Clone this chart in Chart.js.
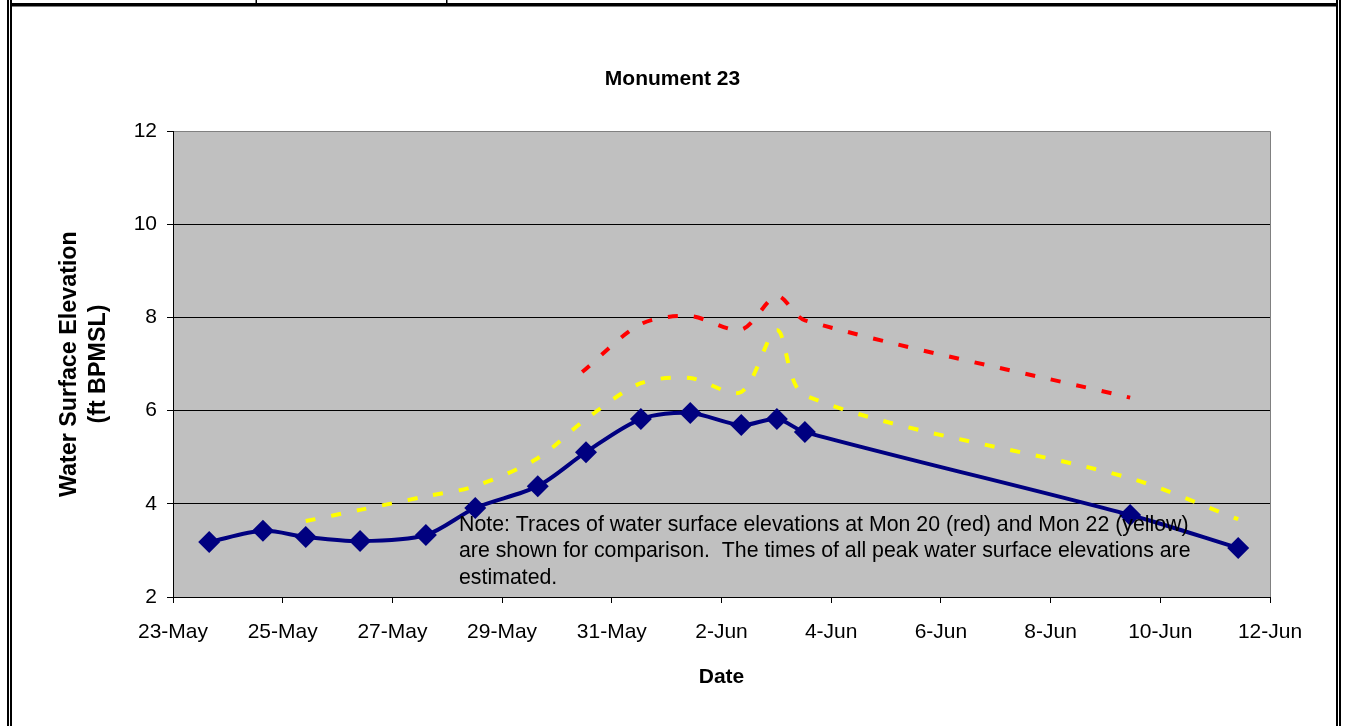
<!DOCTYPE html>
<html><head><meta charset="utf-8">
<script src="https://cdn.jsdelivr.net/npm/chart.js@4"></script>
<style>html,body{margin:0;padding:0;background:#fff}#wrap{width:1345px;height:726px}</style>
</head><body><div id="wrap"><canvas id="c" width="1345" height="726"></canvas></div>
<script>
// X values are days after 23-May
const tickLabels = ['23-May','25-May','27-May','29-May','31-May','2-Jun','4-Jun','6-Jun','8-Jun','10-Jun','12-Jun'];
const mon23Days = [0.66, 1.64, 2.42, 3.41, 4.61, 5.51, 6.65, 7.53, 8.53, 9.43, 10.36, 11.01, 11.52, 17.45, 19.42];
const mon23Elev = [3.18, 3.42, 3.29, 3.20, 3.33, 3.91, 4.38, 5.11, 5.82, 5.95, 5.69, 5.82, 5.54, 3.76, 3.05];
const mon20Days = [7.46, 8.53, 9.43, 10.36, 11.01, 11.52, 17.45];
const mon20Elev = [6.83, 7.86, 8.03, 7.74, 8.46, 7.94, 6.28];
const mon22Days = [2.42, 3.41, 4.61, 5.51, 6.65, 7.53, 8.53, 9.43, 10.36, 11.01, 11.52, 17.45, 19.42];
const mon22Elev = [3.63, 3.87, 4.16, 4.38, 4.98, 5.82, 6.59, 6.70, 6.40, 7.73, 6.33, 4.55, 3.67];
const yTicks = [2, 4, 6, 8, 10, 12];
const noteLines = [
  'Note: Traces of water surface elevations at Mon 20 (red) and Mon 22 (yellow)',
  'are shown for comparison.  The times of all peak water surface elevations are',
  'estimated.'
];

const FONT = "'Liberation Sans', Arial, sans-serif";
const pts = (xs, ys) => xs.map((x, i) => ({x: x, y: ys[i]}));

const framePlugin = {
  id: 'frame',
  beforeDraw(chart) {
    const ctx = chart.ctx, a = chart.chartArea;
    ctx.save();
    ctx.fillStyle = '#fff';
    ctx.fillRect(0, 0, chart.width, chart.height);
    ctx.fillStyle = '#C0C0C0';
    ctx.fillRect(a.left, a.top, a.right - a.left, a.bottom - a.top);
    // page frame
    ctx.fillStyle = '#000';
    ctx.fillRect(7, 0, 2, chart.height);
    ctx.fillRect(10, 0, 2, chart.height);
    ctx.fillRect(1336, 0, 2, chart.height);
    ctx.fillRect(1339, 0, 2, chart.height);
    ctx.fillRect(12, 3, 1324, 3.5);
    ctx.fillRect(255.5, 0, 1.5, 3);
    ctx.fillRect(446, 0, 1.5, 3);
    // right plot border
    ctx.strokeStyle = '#808080';
    ctx.lineWidth = 1;
    ctx.beginPath();
    ctx.moveTo(Math.round(a.right) + 0.5, a.top);
    ctx.lineTo(Math.round(a.right) + 0.5, a.bottom);
    ctx.stroke();
    ctx.restore();
  },
  afterDatasetsDraw(chart) {
    const ctx = chart.ctx;
    ctx.save();
    ctx.font = '21.3px ' + FONT;
    ctx.fillStyle = '#000';
    ctx.textAlign = 'left';
    ctx.textBaseline = 'middle';
    const ys = [525, 551, 578];
    noteLines.forEach((t, i) => ctx.fillText(t, 459, ys[i]));
    ctx.restore();
  }
};

new Chart(document.getElementById('c'), {
  type: 'line',
  data: {
    datasets: [
      {
        label: 'Monument 23',
        data: pts(mon23Days, mon23Elev),
        borderColor: '#000080',
        backgroundColor: '#000080',
        borderWidth: 4,
        pointStyle: 'rectRot',
        pointRadius: 11,
        pointBorderWidth: 0,
        pointBackgroundColor: '#000080',
        tension: 0.3,
        order: 0
      },
      {
        label: 'Mon 20',
        data: pts(mon20Days, mon20Elev),
        borderColor: '#FF0000',
        borderWidth: 4,
        borderDash: [10, 16],
        pointRadius: 0,
        tension: 0.3,
        order: 1
      },
      {
        label: 'Mon 22',
        data: pts(mon22Days, mon22Elev),
        borderColor: '#FFFF00',
        borderWidth: 4,
        borderDash: [10, 16],
        pointRadius: 0,
        tension: 0.3,
        order: 2
      }
    ]
  },
  options: {
    responsive: false,
    animation: false,
    layout: {padding: {left: 0, right: 0, top: 0, bottom: 0}},
    plugins: {
      legend: {display: false},
      tooltip: {enabled: false},
      title: {
        display: true,
        text: 'Monument 23',
        color: '#000',
        font: {family: FONT, size: 21, weight: 'bold'},
        padding: {top: 67, bottom: 39}
      }
    },
    scales: {
      x: {
        type: 'linear',
        position: 'bottom',
        min: 0,
        max: 20,
        afterBuildTicks: s => { s.ticks = tickLabels.map((_, i) => ({value: i * 2})); },
        afterFit: s => { s.height = 129; },
        ticks: {
          callback: (v, i) => tickLabels[i],
          color: '#000',
          font: {family: FONT, size: 21},
          padding: 17,
          maxRotation: 0,
          autoSkip: false
        },
        grid: {drawOnChartArea: false, drawTicks: true, tickLength: 6, tickColor: '#000', tickWidth: 1},
        border: {color: '#000', width: 1},
        title: {
          display: true,
          text: 'Date',
          color: '#000',
          font: {family: FONT, size: 21, weight: 'bold'},
          padding: {top: 0, bottom: 36}
        }
      },
      y: {
        min: 2,
        max: 12,
        afterBuildTicks: s => { s.ticks = yTicks.map(v => ({value: v})); },
        afterFit: s => { s.width = 173; },
        ticks: {
          color: '#000',
          font: {family: FONT, size: 21},
          padding: 10
        },
        grid: {
          color: c => (c.tick && c.tick.value === 12) ? '#808080' : '#000',
          lineWidth: 1,
          tickLength: 6,
          tickColor: '#000',
          tickWidth: 1
        },
        border: {color: '#000', width: 1},
        title: {
          display: true,
          text: ['Water Surface Elevation', '(ft BPMSL)'],
          color: '#000',
          font: {family: FONT, size: 23.3, weight: 'bold', lineHeight: 1.25},
          padding: {top: 55, bottom: 0}
        }
      },
      yRight: {
        position: 'right',
        display: true,
        min: 2,
        max: 12,
        afterFit: s => { s.width = 75; },
        ticks: {display: false},
        grid: {display: false, drawTicks: false},
        border: {display: false},
        title: {display: false}
      }
    }
  },
  plugins: [framePlugin]
});
</script>
</body></html>
